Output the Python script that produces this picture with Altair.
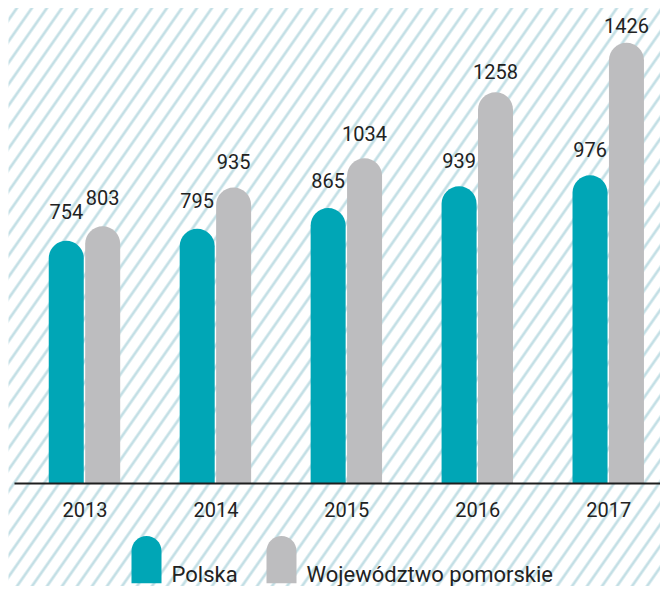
import altair as alt
import pandas as pd

# ---- data ----
years = ["2013", "2014", "2015", "2016", "2017"]
polska = [754, 795, 865, 939, 976]
pomorskie = [803, 935, 1034, 1258, 1426]
series = ["Polska", "Województwo pomorskie"]
colors = ["#00a6b6", "#bdbdbf"]

# ---- layout (whole chart kept inside the window) ----
W, H = 646, 475            # plot area
STEP = 133                 # px per year group
HALF_GAP = 18.5 / STEP     # bar centre distance from group centre (group units)
BAR_W = 35
BAR_DOMAIN = [-68, 1544]
LABEL_DOMAIN = [-200, 1516]
FONT = "Roboto"
INK = "#222222"

rows = []
for i, yr in enumerate(years):
    rows.append({"idx": i, "pos": i - HALF_GAP, "seria": series[0], "wartosc": polska[i]})
    rows.append({"idx": i, "pos": i + HALF_GAP, "seria": series[1], "wartosc": pomorskie[i]})
df = pd.DataFrame(rows)

# diagonal stripe background as a repeating linear gradient
stripe = "#c3dfe5"
rect_w, rect_h = W + 5.5, 578
gx2 = 1.2
gy2 = gx2 * rect_h / (1.428 * rect_w)
dt = gx2 * 15 / rect_w / (gx2 ** 2 + gy2 ** 2)
stops = []
k = 0
while True:
    base = k * dt
    if base > 1:
        break
    for frac, col in [(0.0, "#ffffff"), (0.38, "#ffffff"), (0.52, stripe),
                      (0.60, stripe), (0.74, "#ffffff")]:
        off = base + frac * dt
        if off <= 1:
            stops.append({"offset": round(off, 5), "color": col})
    k += 1
grad = {"gradient": "linear", "x1": 0, "y1": 0, "x2": gx2, "y2": gy2, "stops": stops}

bg = alt.Chart(pd.DataFrame({"t": [0]})).mark_rect(fill=grad, strokeWidth=0).encode(
    x=alt.value(-5.5), x2=alt.value(W), y=alt.value(0), y2=alt.value(rect_h)
)

# legend symbol: tall bar with rounded top, origin at the label's centre
sym = ("M-1,0.55L-1,-1.6C-1,-2.152,-0.552,-2.6,0,-2.6"
       "C0.552,-2.6,1,-2.152,1,-1.6L1,0.55Z")

label_expr = "[" + ",".join("'%s'" % y for y in years) + "][datum.value]"
x_scale = alt.Scale(domain=[-0.5, -0.5 + W / STEP], nice=False, zero=False)
x_axis = alt.Axis(title=None, values=list(range(len(years))), labelExpr=label_expr,
                  labelAngle=0, ticks=False, grid=False, zindex=1,
                  domainColor="#1e1e1e", domainWidth=2,
                  labelFontSize=20, labelFont=FONT, labelColor=INK,
                  labelPadding=17, labelFlush=False)
x_enc = alt.X("pos:Q", scale=x_scale, axis=x_axis)

color = alt.Color(
    "seria:N", sort=series,
    scale=alt.Scale(domain=series, range=colors),
    legend=alt.Legend(title=None, orient="none", legendX=117.5, legendY=552,
                      direction="horizontal", symbolType=sym, symbolSize=900,
                      symbolStrokeWidth=0, symbolOpacity=1,
                      labelFontSize=22, labelFont=FONT, labelColor=INK,
                      labelOffset=10, columnPadding=28, labelLimit=400,
                      padding=0, zindex=1),
)

bars = alt.Chart(df).mark_bar(width=BAR_W, cornerRadiusTopLeft=17.5,
                              cornerRadiusTopRight=17.5).encode(
    x=x_enc,
    y=alt.Y("wartosc:Q", axis=None,
            scale=alt.Scale(domain=BAR_DOMAIN, nice=False, zero=False)),
    y2=alt.datum(BAR_DOMAIN[0]),
    color=color,
)

labels = alt.Chart(df).mark_text(fontSize=20, font=FONT, color=INK,
                                 baseline="alphabetic", align="center").encode(
    x=x_enc,
    y=alt.Y("wartosc:Q", axis=None,
            scale=alt.Scale(domain=LABEL_DOMAIN, nice=False, zero=False)),
    text="wartosc:Q",
)

chart = (
    alt.layer(bg, bars, labels)
    .resolve_scale(y="independent")
    .properties(width=W, height=H, padding=0)
    .configure(background="#ffffff")
    .configure_view(stroke=None)
)

chart.save("out.html", embed_options={"renderer": "svg", "actions": False})
